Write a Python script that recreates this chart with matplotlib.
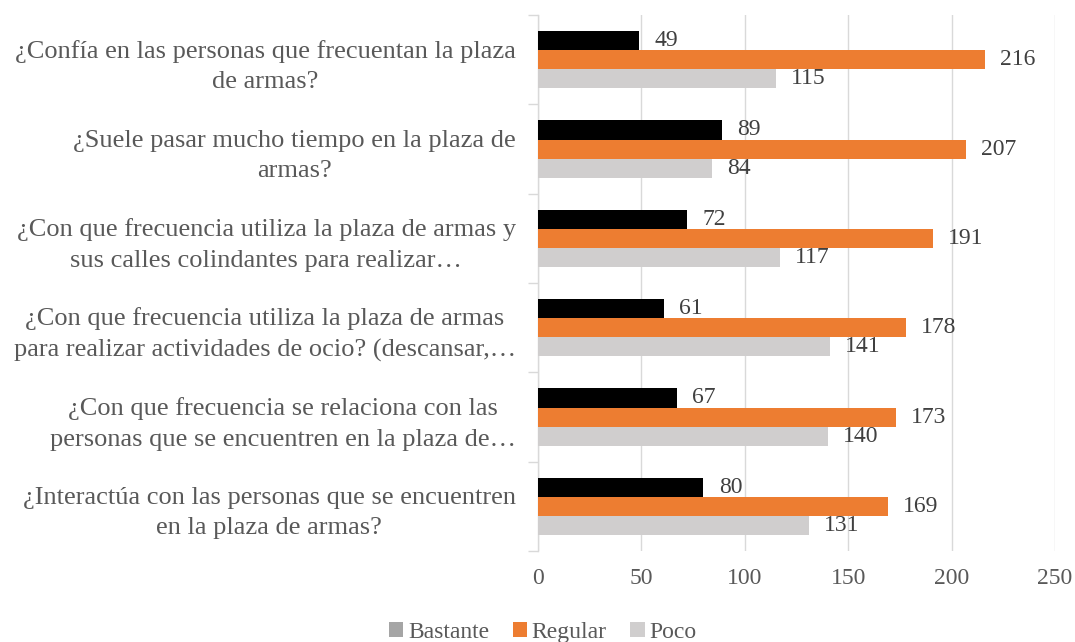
import numpy as np
import matplotlib
matplotlib.use("Agg")
import matplotlib.pyplot as plt
from matplotlib.patches import Patch

# chart data
questions = [
    "¿Confía en las personas que frecuentan la plaza\nde armas?",
    "¿Suele pasar mucho tiempo en la plaza de\narmas?",
    "¿Con que frecuencia utiliza la plaza de armas y\nsus calles colindantes para realizar…",
    "¿Con que frecuencia utiliza la plaza de armas\npara realizar actividades de ocio? (descansar,…",
    "¿Con que frecuencia se relaciona con las\npersonas que se encuentren en la plaza de…",
    "¿Interactúa con las personas que se encuentren\nen la plaza de armas?",
]
series_names = ["Bastante", "Regular", "Poco"]
bastante = [49, 89, 72, 61, 67, 80]
regular = [216, 207, 191, 178, 173, 169]
poco = [115, 84, 117, 141, 140, 131]
x_ticks = [0, 50, 100, 150, 200, 250]

bar_colors = ["#000000", "#ED7D31", "#D0CECE"]
legend_colors = ["#A5A5A5", "#ED7D31", "#D0CECE"]
text_color = "#595959"
grid_color = "#D9D9D9"

plt.rcParams["font.family"] = ["Liberation Serif", "DejaVu Serif"]
plt.rcParams["font.size"] = 17

fig = plt.figure(figsize=(10.75, 6.42), dpi=100)
ax = fig.add_axes([0.5005, 0.1417, 0.4809, 0.8349])

y = np.arange(len(questions))
h = 0.213
for k, (vals, col) in enumerate(zip([bastante, regular, poco], bar_colors)):
    pos = y + (k - 1) * h
    ax.barh(pos, vals, height=h, color=col, zorder=3)
    for p, v in zip(pos, vals):
        ax.annotate(str(v), (v, p), xytext=(11, 0), textcoords="offset points",
                    ha="left", va="center", color="#404040", fontsize=17)

ax.set_xlim(0, 250)
ax.set_ylim(len(questions) - 0.5, -0.5)
ax.set_xticks(x_ticks)
ax.set_xticklabels([str(t) for t in x_ticks])
ax.set_yticks(y)
ax.set_yticklabels(questions, multialignment="center", fontsize=19, linespacing=1.5)
ax.set_yticks(np.arange(len(questions) + 1) - 0.5, minor=True)

ax.tick_params(axis="x", length=0, pad=12, colors=text_color)
ax.tick_params(axis="y", which="major", length=0, pad=16, colors=text_color)
ax.tick_params(axis="y", which="minor", length=7, width=1, color=grid_color)

ax.grid(axis="x", color=grid_color, linewidth=1, zorder=0)
for s in ["top", "right", "bottom"]:
    ax.spines[s].set_visible(False)
ax.spines["left"].set_color(grid_color)
ax.spines["left"].set_linewidth(1)

handles = [Patch(facecolor=c, label=n) for c, n in zip(legend_colors, series_names)]
fig.legend(handles=handles, loc="lower center", bbox_to_anchor=(0.505, -0.035), ncol=3,
           frameon=False, fontsize=17, handlelength=0.6, handleheight=0.6,
           handletextpad=0.2, columnspacing=1.0, labelcolor=text_color)

fig.savefig("out.png", dpi=100)
